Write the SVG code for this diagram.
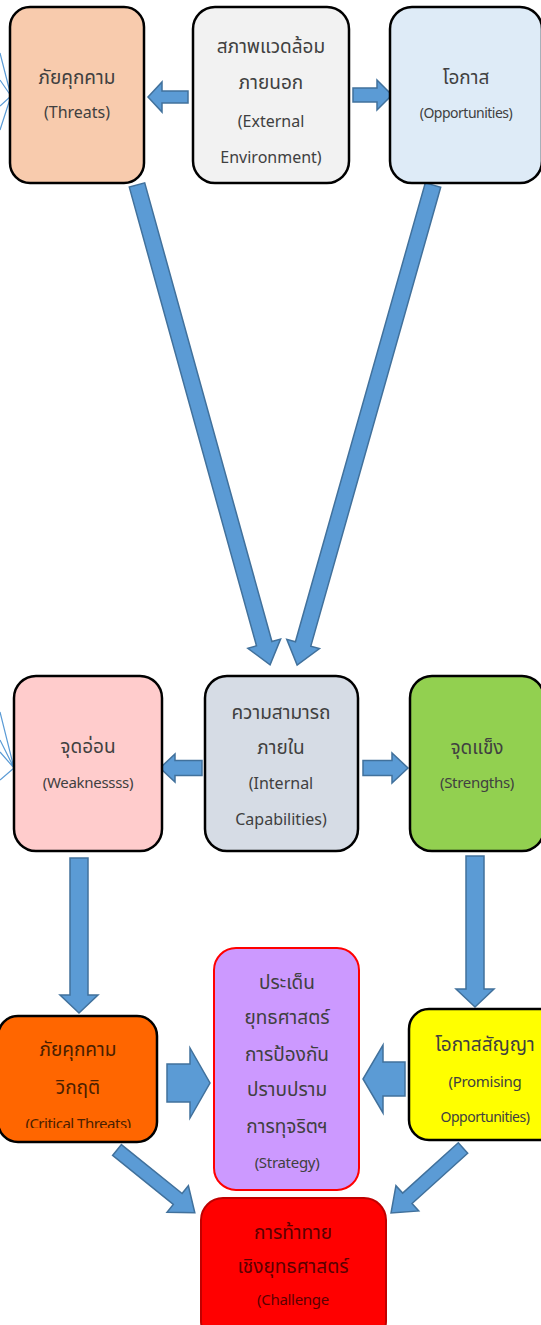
<svg xmlns="http://www.w3.org/2000/svg" width="541" height="1325" viewBox="0 0 541 1325">
<defs>
<style>
.box{stroke:#000;stroke-width:2.5}
.t{font-family:"Noto Sans","Noto Sans Thai","DejaVu Sans",sans-serif;font-size:16px;fill:#404040;text-anchor:middle}
.th{font-size:19px}
.s{font-size:15px;letter-spacing:-0.3px}
.s2{font-size:14px;letter-spacing:-0.5px}
.arr{fill:#5B9BD5;stroke:#41719C;stroke-width:1.5;stroke-linejoin:miter}
.thin{stroke:#5B9BD5;stroke-width:1.2;fill:none}
</style>
<clipPath id="clipCrit"><rect x="0" y="1016" width="160" height="112"/></clipPath>
</defs>
<rect width="541" height="1325" fill="#fff"/>

<g id="connectors">
<polygon class="arr" transform="translate(188,97) rotate(180)" points="0,-6 26,-6 26,-15 40,0 26,15 26,6 0,6"/>
<polygon class="arr" transform="translate(353,95)" points="0,-7 24,-7 24,-15 39,0 24,15 24,7 0,7"/>
<polygon class="arr" transform="translate(137,185) rotate(74.5)" points="0,-8 476,-8 476,-17 498,0 476,17 476,8 0,8"/>
<polygon class="arr" transform="translate(433,185) rotate(105.8)" points="0,-8 477,-8 477,-17 499,0 477,17 477,8 0,8"/>
<polygon class="arr" transform="translate(202,768) rotate(180)" points="0,-7.5 27,-7.5 27,-14 42,0 27,14 27,7.5 0,7.5"/>
<polygon class="arr" transform="translate(363,768)" points="0,-7.5 29,-7.5 29,-15 45,0 29,15 29,7.5 0,7.5"/>
<polygon class="arr" transform="translate(79,858) rotate(90)" points="0,-9 137,-9 137,-19 155,0 137,19 137,9 0,9"/>
<polygon class="arr" transform="translate(475,856) rotate(90)" points="0,-9 133,-9 133,-19 151,0 133,19 133,9 0,9"/>
<polygon class="arr" transform="translate(167,1083)" points="0,-19 23,-19 23,-35 43,0 23,35 23,19 0,19"/>
<polygon class="arr" transform="translate(405,1079) rotate(180)" points="0,-17 22,-17 22,-34 42,0 22,34 22,17 0,17"/>
<polygon class="arr" transform="translate(117,1150) rotate(38.9)" points="0,-7 78,-7 78,-17 100,0 78,17 78,7 0,7"/>
<polygon class="arr" transform="translate(463,1148) rotate(137.9)" points="0,-7 75,-7 75,-17 97,0 75,17 75,7 0,7"/>
<path class="thin" d="M0,53 L11,96 M0,80 L11,96 M0,106 L11,96 M0,130 L11,96"/>
<path class="thin" d="M0,712 L14,768 M0,740 L14,768 M0,752 L14,768 M0,780 L14,768"/>
<rect x="538" y="84" width="4" height="16" fill="#5B9BD5"/>
</g>

<g id="threats">
<rect class="box" x="10" y="7" width="134" height="176" rx="20" fill="#F8CBAD"/>
<text class="t th" x="77" y="84">ภัยคุกคาม</text>
<text class="t" x="77" y="118">(Threats)</text>
</g>

<g id="external">
<rect class="box" x="193" y="7" width="156" height="176" rx="22" fill="#F2F2F2"/>
<text class="t th" x="271" y="53">สภาพแวดล้อม</text>
<text class="t th" x="271" y="89">ภายนอก</text>
<text class="t" x="271" y="127">(External</text>
<text class="t" x="271" y="163">Environment)</text>
</g>

<g id="opportunities">
<rect class="box" x="390" y="7" width="152" height="176" rx="22" fill="#DEEBF7"/>
<text class="t th" x="466" y="84">โอกาส</text>
<text class="t s2" x="466" y="118">(Opportunities)</text>
</g>

<g id="weakness">
<rect class="box" x="14" y="676" width="148" height="175" rx="22" fill="#FFCCCC"/>
<text class="t th" x="88" y="753">จุดอ่อน</text>
<text class="t s" x="88" y="788">(Weaknessss)</text>
</g>

<g id="internal">
<rect class="box" x="205" y="676" width="153" height="175" rx="22" fill="#D6DCE5"/>
<text class="t th" x="281" y="719">ความสามารถ</text>
<text class="t th" x="281" y="754">ภายใน</text>
<text class="t" x="281" y="789">(Internal</text>
<text class="t" x="281" y="825">Capabilities)</text>
</g>

<g id="strengths">
<rect class="box" x="410" y="676" width="134" height="175" rx="22" fill="#92D050"/>
<text class="t th" x="477" y="754">จุดแข็ง</text>
<text class="t s" x="477" y="788">(Strengths)</text>
</g>

<g id="critical">
<rect class="box" x="-2" y="1016" width="159" height="126" rx="20" fill="#FF6600"/>
<text class="t th" x="78" y="1056" style="fill:#4A2000">ภัยคุกคาม</text>
<text class="t th" x="78" y="1094" style="fill:#4A2000">วิกฤติ</text>
<text class="t" x="78" y="1129" style="fill:#4A2000;font-size:15px;letter-spacing:-0.5px" clip-path="url(#clipCrit)">(Critical Threats)</text>
</g>

<g id="strategy">
<rect x="214" y="948" width="145" height="242" rx="22" fill="#CC99FF" stroke="#FF0000" stroke-width="2"/>
<text class="t th" x="287" y="989">ประเด็น</text>
<text class="t th" x="287" y="1024">ยุทธศาสตร์</text>
<text class="t th" x="287" y="1061">การป้องกัน</text>
<text class="t th" x="287" y="1096">ปราบปราม</text>
<text class="t th" x="287" y="1133">การทุจริตฯ</text>
<text class="t s" x="287" y="1168">(Strategy)</text>
</g>

<g id="promising">
<rect class="box" x="409" y="1009" width="152" height="131" rx="20" fill="#FFFF00"/>
<text class="t th" x="485" y="1051">โอกาสสัญญา</text>
<text class="t s" x="485" y="1087">(Promising</text>
<text class="t s2" x="485" y="1122">Opportunities)</text>
</g>

<g id="challenge">
<rect x="201" y="1198" width="185" height="145" rx="22" fill="#FF0000" stroke="#C00000" stroke-width="2"/>
<text class="t th" x="293" y="1239" style="fill:#5A0000">การท้าทาย</text>
<text class="t th" x="293" y="1273" style="fill:#5A0000">เชิงยุทธศาสตร์</text>
<text class="t s" x="293" y="1305" style="fill:#5A0000">(Challenge</text>
</g>
</svg>
